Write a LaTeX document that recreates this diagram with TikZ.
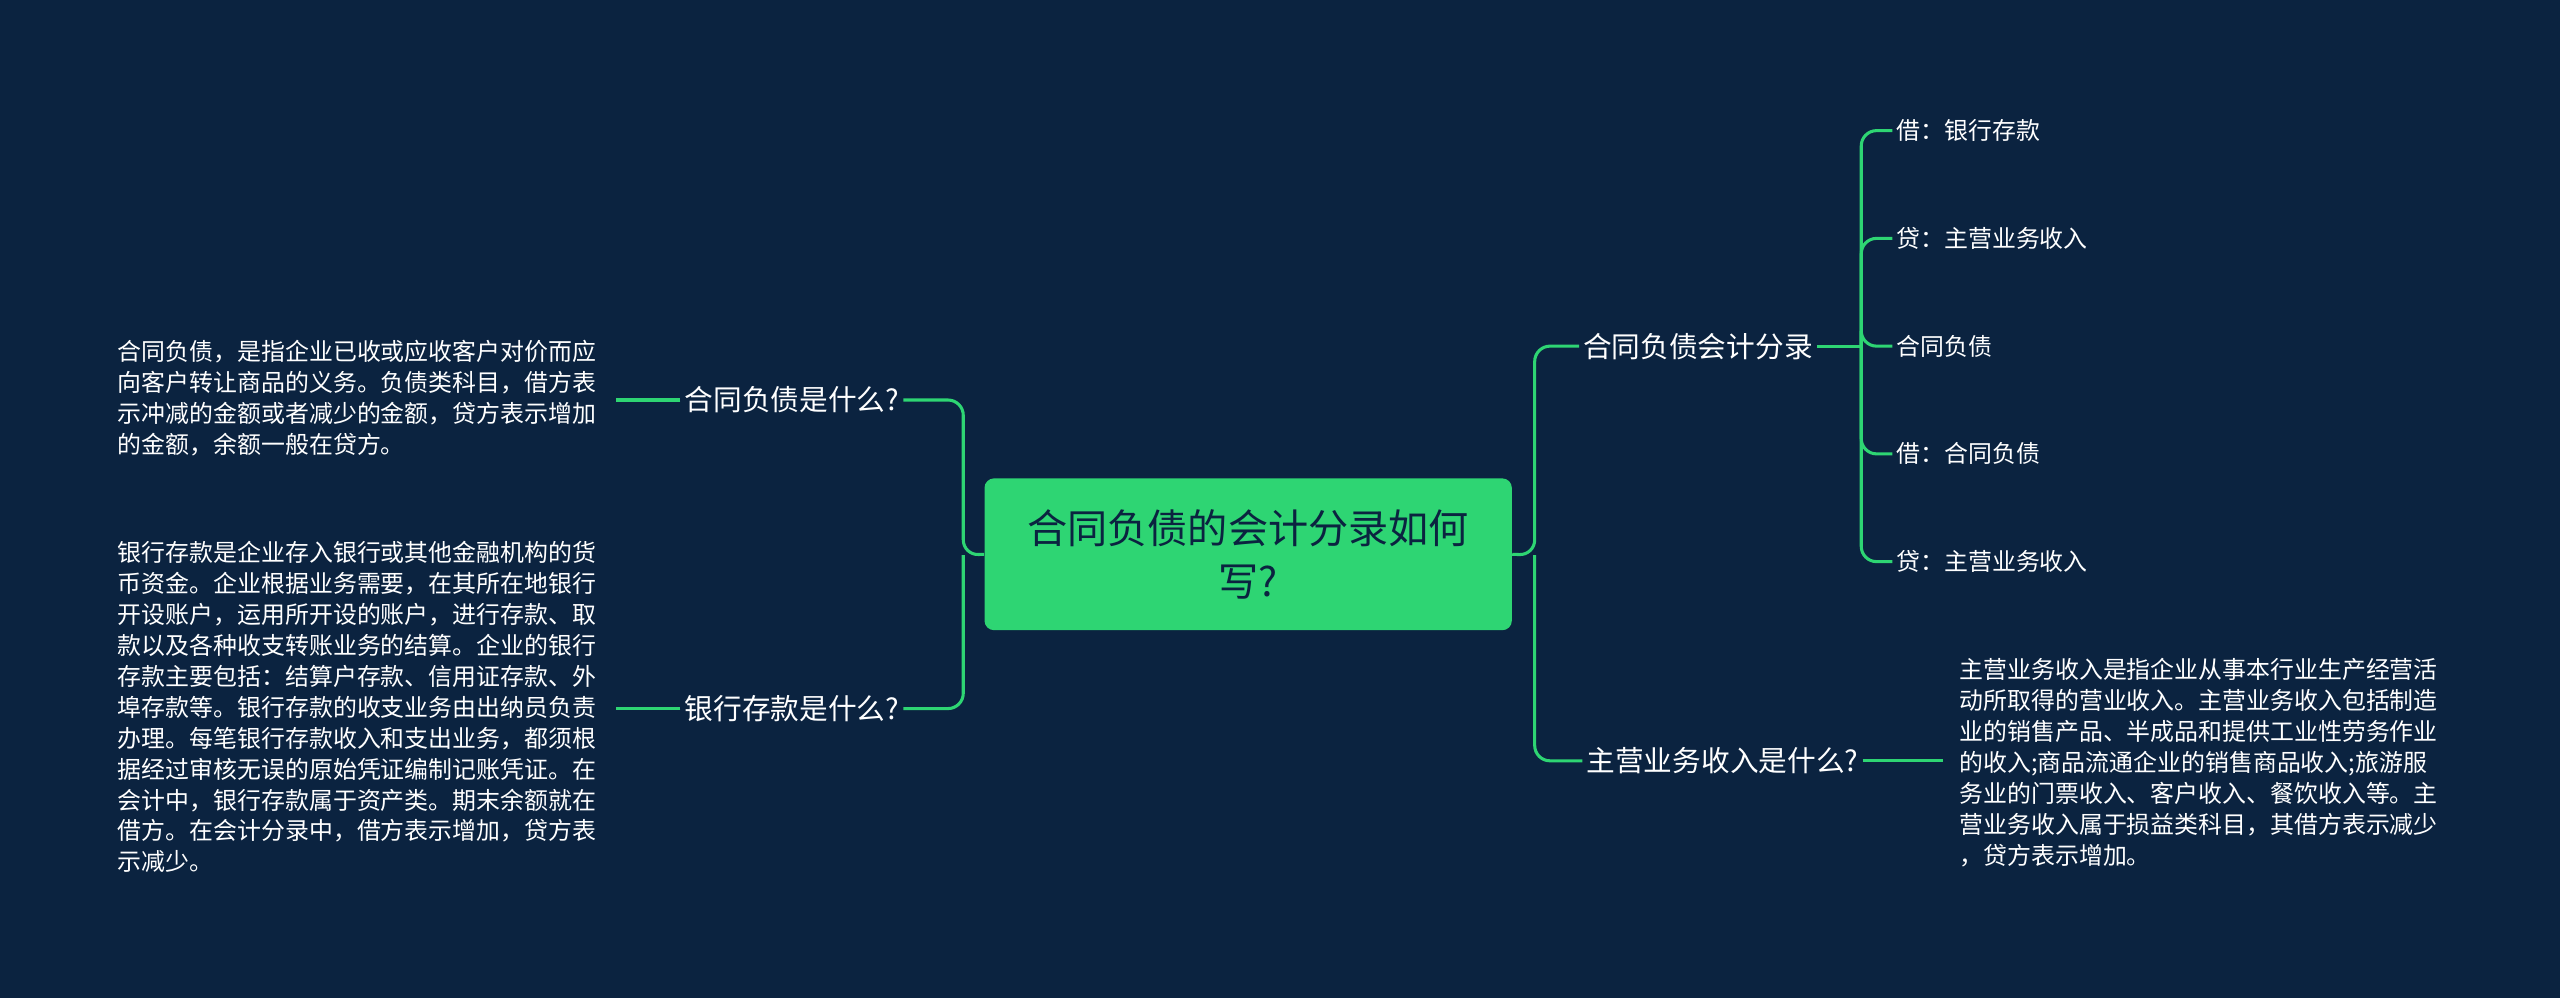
\documentclass[tikz,border=0pt]{standalone}
\usepackage{fontspec}
\setmainfont{Noto Sans CJK SC}
\usetikzlibrary{positioning}
\definecolor{bgblue}{HTML}{0B2340}
\definecolor{mapgreen}{HTML}{2ED573}

\begin{document}
\begin{tikzpicture}[%
            x=0.03cm,
            y=-0.03cm,
            link/.style={%
            	draw=mapgreen,
            	line width=1.6pt,
            	rounded corners=8pt
            },
            topic/.style={%
            	text=white,
            	font=\fontsize{15}{18}\selectfont,
            	inner sep=2pt
            },
            leaf/.style={%
            	text=white,
            	font=\fontsize{12.5}{16}\selectfont,
            	inner sep=2pt,
            	anchor=west
            },
            note/.style={%
            	text=white,
            	font=\fontsize{12.5}{16.2}\selectfont,
            	align=left,
            	inner sep=0pt,
            	anchor=north west
            }
            ]
            \fill[bgblue] (0,0) rectangle (1568,611);
            \useasboundingbox (0,0) rectangle (1568,611);

            % centre
            \node[fill=mapgreen, rounded corners=5pt, minimum width=323*0.03cm,
                  minimum height=93*0.03cm, align=center,
                  font=\fontsize{21}{28}\selectfont, text=bgblue] (root) at (764.5,339.5)
                  {合同负债的会计分录如何\\写?};

            % left side
            \node[topic] (what) at (485,245) {合同负债是什么?};
            \node[topic] (bank) at (485,434) {银行存款是什么?};
            \node[note] (whatnote) at (72,208)
                 {合同负债，是指企业已收或应收客户对价而应\\向客户转让商品的义务。负债类科目，借方表\\示冲减的金额或者减少的金额，贷方表示增加\\的金额，余额一般在贷方。};
            \node[note] (banknote) at (72,331)
                 {银行存款是企业存入银行或其他金融机构的货\\币资金。企业根据业务需要，在其所在地银行\\开设账户，运用所开设的账户，进行存款、取\\款以及各种收支转账业务的结算。企业的银行\\存款主要包括：结算户存款、信用证存款、外\\埠存款等。银行存款的收支业务由出纳员负责\\办理。每笔银行存款收入和支出业务，都须根\\据经过审核无误的原始凭证编制记账凭证。在\\会计中，银行存款属于资产类。期末余额就在\\借方。在会计分录中，借方表示增加，贷方表\\示减少。};

            % right side
            \node[topic] (entry) at (1040,212) {合同负债会计分录};
            \node[topic] (income) at (1055,466) {主营业务收入是什么?};
            \node[leaf] (l1) at (1159,80) {借：银行存款};
            \node[leaf] (l2) at (1159,146) {贷：主营业务收入};
            \node[leaf] (l3) at (1159,212) {合同负债};
            \node[leaf] (l4) at (1159,278) {借：合同负债};
            \node[leaf] (l5) at (1159,344) {贷：主营业务收入};
            \node[note] (incomenote) at (1200,403)
                 {主营业务收入是指企业从事本行业生产经营活\\动所取得的营业收入。主营业务收入包括制造\\业的销售产品、半成品和提供工业性劳务作业\\的收入;商品流通企业的销售商品收入;旅游服\\务业的门票收入、客户收入、餐饮收入等。主\\营业务收入属于损益类科目，其借方表示减少\\，贷方表示增加。};

            \coordinate (lfork) at (590,340);
            \coordinate (rfork) at (940,340);
            \coordinate (efork) at (1140,212);

            \draw[link] (root.west) -- (lfork) |- (what.east);
            \draw[link] (lfork) |- (bank.east);
            \draw[link] (root.east) -- (rfork) |- (entry.west);
            \draw[link] (rfork) |- (income.west);
            \draw[link] (what.west) -- (377,245);
            \draw[link] (bank.west) -- (377,434);
            \draw[link] (income.east) -- (1190,466);
            \draw[link] (entry.east) -- (efork);
            \foreach \n in {l1,l2,l3,l4,l5}
                \draw[link] (efork) |- (\n.west);
            \end{tikzpicture}
\end{document}
